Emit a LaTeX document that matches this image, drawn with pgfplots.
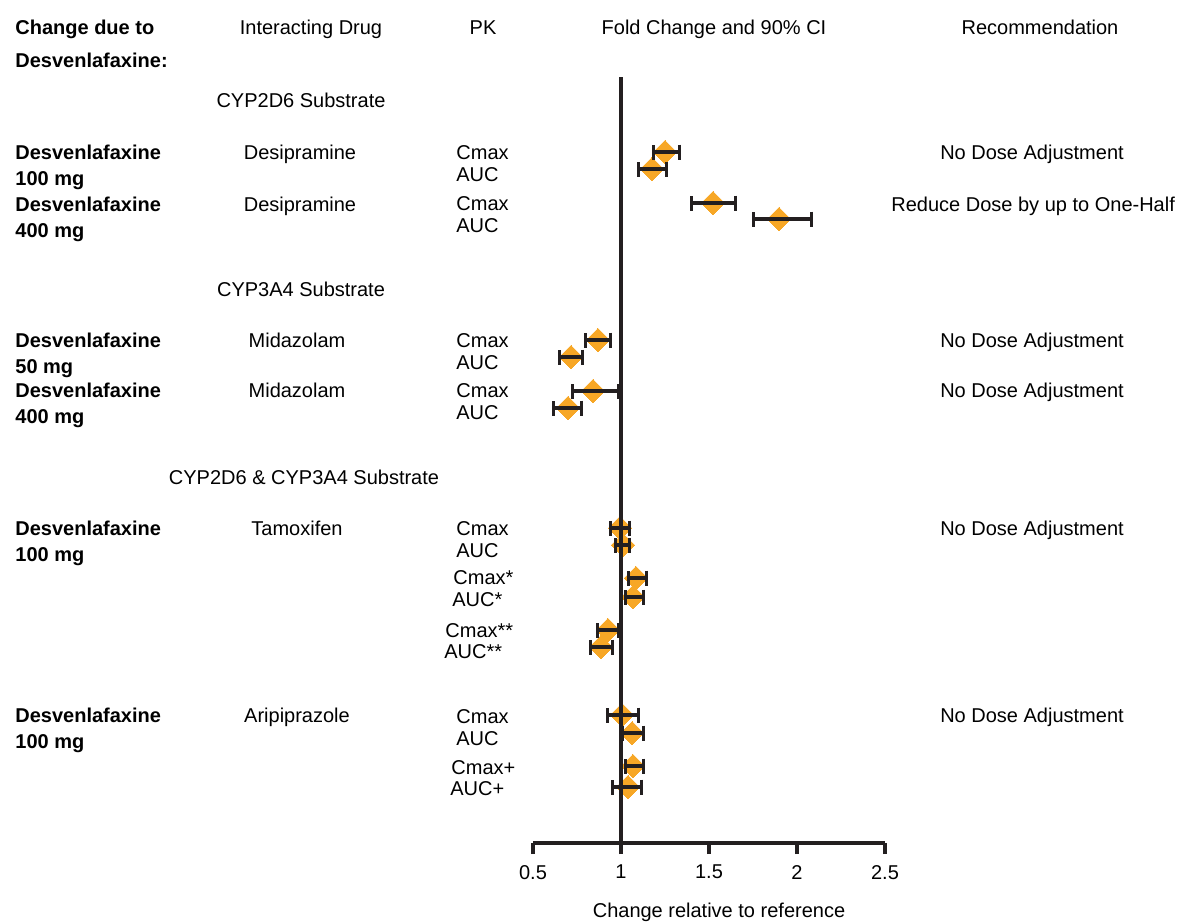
\documentclass[border=0pt]{standalone}
\usepackage{pgfplots}
\pgfplotsset{compat=1.18}
\usepackage{pgfplotstable}
\usepackage{fontspec}
\setmainfont{Liberation Sans}

\definecolor{diam}{RGB}{247,167,38}
\definecolor{ink}{RGB}{35,31,32}

% row position (from top), fold change, 90% CI low, 90% CI high
\pgfplotstableread{
y    x     lo    hi
-152 1.250 1.182 1.330
-169 1.176 1.102 1.256
-203 1.523 1.403 1.653
-219 1.898 1.750 2.080
-340 0.869 0.801 0.943
-357 0.716 0.648 0.784
-391 0.841 0.727 0.983
-408 0.699 0.614 0.778
-528 0.994 0.943 1.051
-545 1.011 0.966 1.051
-578 1.085 1.040 1.142
-597 1.068 1.023 1.125
-630 0.926 0.864 0.983
-647 0.886 0.824 0.949
-715 1.006 0.926 1.102
-733 1.063 1.011 1.125
-766 1.068 1.023 1.125
-787 1.040 0.949 1.119
}\fcdata

\newcommand{\dose}[2]{%
  \node[anchor=base west, font=\bfseries] at (15,#1) {Desvenlafaxine};
  \node[anchor=base west, font=\bfseries] at (15,#1+26) {#2};}

\begin{document}
\begin{tikzpicture}
\useasboundingbox (0pt,0pt) rectangle (590.5pt,-461pt);
\clip (0pt,0pt) rectangle (590.5pt,-461pt);
\begin{axis}[
    at={(266.5pt,-421.5pt)}, anchor=south west,
    width=176pt, height=410.5pt, scale only axis,
    xmin=0.5, xmax=2.5, ymin=-843, ymax=-22,
    axis x line*=bottom, axis y line=none,
    x axis line style={line width=2pt, ink, -},
    xtick={0.5,1,1.5,2,2.5},
    xticklabels={0.5,1,1.5,2,2.5},
    xticklabel style={yshift=-2pt},
    /pgf/number format/assume math mode=true,
    tick align=outside, major tick length=5.5pt,
    xtick style={line width=2pt, ink},
    ytick=\empty,
    clip=false, clip marker paths=true,
]
% diamonds
\addplot[draw=none, mark=square*, mark size=4.1pt,
    mark options={rotate=45, fill=diam, draw=diam, line width=0pt}]
    table[x=x, y=y]{\fcdata};
% 90% CI, over the diamonds
\addplot[draw=none, mark=none,
    error bars/.cd, x dir=both, x explicit,
    error bar style={draw=ink, line width=1.6pt},
    error mark=|,
    error mark options={draw=ink, line width=1.5pt, mark size=3.75pt}]
    table[x=x, y=y,
      x error plus expr=\thisrow{hi}-\thisrow{x},
      x error minus expr=\thisrow{x}-\thisrow{lo}]{\fcdata};
% reference line
\addplot[ink, line width=2.2pt] coordinates {(1,-77) (1,-843)};
\end{axis}

\begin{scope}[x=0.5pt, y=-0.5pt, every node/.style={inner sep=0pt}]
  % headers
  \node[anchor=base west, font=\bfseries] at (15,34) {Change due to};
  \node[anchor=base west, font=\bfseries] at (15,67) {Desvenlafaxine:};
  \node[anchor=base] at (311,34) {Interacting Drug};
  \node[anchor=base] at (483,34) {PK};
  \node[anchor=base] at (714,34) {Fold Change and 90\% CI};
  \node[anchor=base] at (1040,34) {Recommendation};
  % substrate groups
  \node[anchor=base] at (301,107) {CYP2D6 Substrate};
  \node[anchor=base] at (301,296) {CYP3A4 Substrate};
  \node[anchor=base] at (304,484) {CYP2D6 \& CYP3A4 Substrate};
  % dose column
  \dose{159}{100 mg}
  \dose{211}{400 mg}
  \dose{347}{50 mg}
  \dose{397}{400 mg}
  \dose{535}{100 mg}
  \dose{722}{100 mg}
  % interacting drug
  \node[anchor=base] at (300,159) {Desipramine};
  \node[anchor=base] at (300,211) {Desipramine};
  \node[anchor=base] at (297,347) {Midazolam};
  \node[anchor=base] at (297,397) {Midazolam};
  \node[anchor=base] at (297,535) {Tamoxifen};
  \node[anchor=base] at (297,722) {Aripiprazole};
  % PK parameter
  \foreach \yy in {159,210,347,397,535,723} {
    \node[anchor=base west] at (456,\yy) {Cmax};
    \node[anchor=base west] at (456,\yy+22) {AUC};
  }
  \node[anchor=base west] at (453,584) {Cmax*};
  \node[anchor=base west] at (452,606) {AUC*};
  \node[anchor=base west] at (445,637) {Cmax**};
  \node[anchor=base west] at (444,658) {AUC**};
  \node[anchor=base west] at (451,774) {Cmax+};
  \node[anchor=base west] at (450,795) {AUC+};
  % recommendation
  \foreach \yy in {159,347,397,535,722}
    \node[anchor=base] at (1032,\yy) {No Dose Adjustment};
  \node[anchor=base west] at (891,211) {Reduce Dose by up to One-Half};
  % x label
  \node[anchor=base] at (719,917) {Change relative to reference};
\end{scope}
\end{tikzpicture}
\end{document}
